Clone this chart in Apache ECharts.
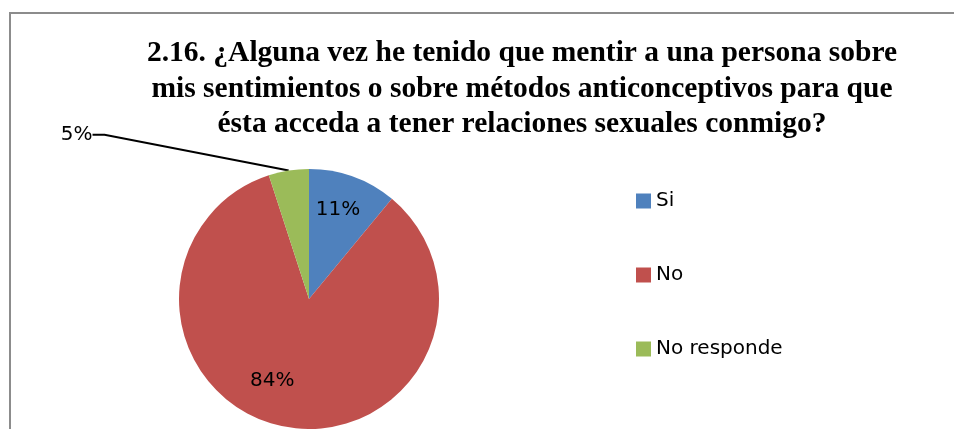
<!DOCTYPE html>
<html>
<head>
<meta charset="utf-8">
<script src="https://cdn.jsdelivr.net/npm/echarts@6/dist/echarts.min.js"></script>
<style>
  html, body { margin: 0; padding: 0; background: #fff; }
  #chart { width: 954px; height: 429px; }
</style>
</head>
<body>
<div id="chart"></div>
<script>
// data
const categories = ['Si', 'No', 'No responde']
const percentages = [11, 84, 5]
const sliceColors = ['#4F81BD', '#C0504D', '#9BBB59']

const titleText = '2.16. ¿Alguna vez he tenido que mentir a una persona sobre\n' +
  'mis sentimientos o sobre métodos anticonceptivos para que\n' +
  'ésta acceda a tener relaciones sexuales conmigo?'

// label nudges (dx, dy) relative to the default label box
const labelShift = [
  { dx: 6, dy: -25 },
  { dx: -24, dy: 15 },
  { dx: -176, dy: -16 },
]

const chart = echarts.init(document.getElementById('chart'), null, { renderer: 'canvas' })

const pieData = categories.map((name, i) => ({
  name,
  value: percentages[i],
  itemStyle: { color: sliceColors[i] },
  label: i === 2
    ? { position: 'outside' }
    : { position: 'inside' },
  labelLine: { show: i === 2 },
}))

/**
 * Move labels off their default spot; using x/y makes the guide line redraw
 */
function placeLabel(params) {
  const shift = labelShift[params.dataIndex]
  const rect = params.labelRect
  return {
    x: rect.x + shift.dx,
    y: rect.y + shift.dy,
    align: 'left',
    verticalAlign: 'top',
  }
}

const option = {
  backgroundColor: '#fff',
  animation: false,
  graphic: [
    {
      type: 'rect',
      silent: true,
      shape: { x: 10, y: 13, width: 2000, height: 2000 },
      style: { fill: 'none', stroke: '#8c8c8c', lineWidth: 2 },
    },
  ],
  title: {
    text: titleText,
    left: 517,
    top: 31,
    textAlign: 'center',
    textStyle: {
      fontFamily: 'Liberation Serif',
      fontWeight: 'bold',
      fontSize: 29.5,
      lineHeight: 35.5,
      color: '#000',
    },
  },
  legend: {
    orient: 'vertical',
    left: 631,
    top: 186,
    itemGap: 54,
    itemWidth: 15,
    itemHeight: 15,
    icon: 'rect',
    data: categories,
    textStyle: {
      fontFamily: 'DejaVu Sans',
      fontSize: 20,
      color: '#000',
    },
  },
  series: [
    {
      type: 'pie',
      center: [309, 299],
      radius: [0, 130],
      startAngle: 90,
      clockwise: true,
      avoidLabelOverlap: false,
      data: pieData,
      label: {
        show: true,
        formatter: '{c}%',
        fontFamily: 'DejaVu Sans',
        fontSize: 20,
        color: '#000',
      },
      labelLine: {
        length: 20,
        length2: 12,
        lineStyle: { color: '#000', width: 2 },
      },
      labelLayout: placeLabel,
      emphasis: { disabled: true },
    },
  ],
}

chart.setOption(option)
</script>
</body>
</html>
